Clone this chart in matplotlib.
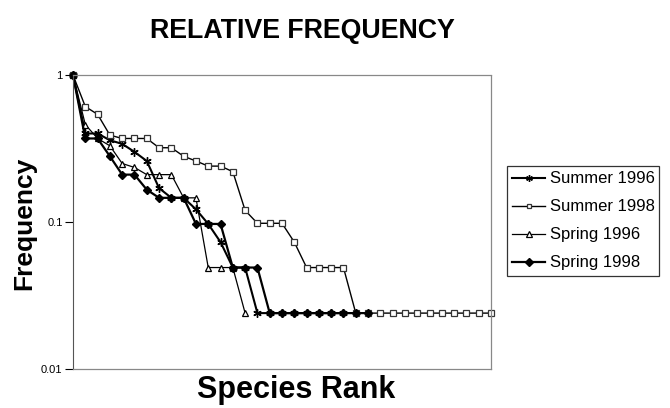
import matplotlib.pyplot as plt

plt.rcParams['font.family'] = ['Liberation Sans', 'DejaVu Sans']

# relative frequency by species rank
summer_1996 = [1, 0.40, 0.40, 0.36, 0.34, 0.30, 0.26, 0.17, 0.146, 0.146,
               0.122, 0.097, 0.073, 0.049, 0.049, 0.024, 0.024, 0.024,
               0.024, 0.024, 0.024, 0.024, 0.024]
summer_1998 = [1, 0.61, 0.54, 0.39, 0.37, 0.37, 0.37, 0.32, 0.32, 0.28,
               0.26, 0.24, 0.24, 0.22, 0.12, 0.098, 0.098, 0.098, 0.073,
               0.049, 0.049, 0.049, 0.049, 0.024, 0.024, 0.024, 0.024,
               0.024, 0.024, 0.024, 0.024, 0.024, 0.024, 0.024, 0.024]
spring_1996 = [1, 0.46, 0.37, 0.33, 0.25, 0.235, 0.21, 0.21, 0.21, 0.146,
               0.146, 0.049, 0.049, 0.049, 0.024]
spring_1998 = [1, 0.37, 0.37, 0.28, 0.21, 0.21, 0.166, 0.146, 0.146, 0.146,
               0.097, 0.097, 0.097, 0.049, 0.049, 0.049, 0.024, 0.024,
               0.024, 0.024, 0.024, 0.024, 0.024, 0.024, 0.024]

series = [
    ('Summer 1996', summer_1996, dict(marker=(6, 2, 0), ms=6, lw=1.5, mew=1.0)),
    ('Summer 1998', summer_1998, dict(marker='s', ms=4, lw=1.0, mfc='white', mec='#333333', mew=0.9)),
    ('Spring 1996', spring_1996, dict(marker='^', ms=5, lw=0.9, mfc='white', mew=0.9)),
    ('Spring 1998', spring_1998, dict(marker='D', ms=4.5, lw=1.6)),
]

fig = plt.figure(figsize=(6.7, 4.08), dpi=100)
ax = fig.add_axes([73 / 670, 1 - 369 / 408, 418 / 670, 294 / 408])

for name, vals, style in series:
    ranks = range(1, len(vals) + 1)
    ax.plot(ranks, vals, color='black', label=name, clip_on=False, **style)

ax.set_yscale('log')
ax.set_ylim(0.01, 1)
ax.set_xlim(1, 35)
ax.set_yticks([0.01, 0.1, 1])
ax.set_yticklabels(['0.01', '0.1', '1'])
ax.minorticks_off()
ax.tick_params(axis='y', direction='out', length=6, width=0.8, labelsize=8, pad=1.5)
ax.set_xticks([])

for side in ['top', 'right', 'bottom']:
    ax.spines[side].set_linestyle((0, (1, 1)))
    ax.spines[side].set_color('#888888')
    ax.spines[side].set_linewidth(0.9)
ax.spines['left'].set_color('#555555')

fig.text(302 / 670, 1 - 31 / 408, 'RELATIVE FREQUENCY', ha='center', va='center',
         fontsize=19.3, fontweight='bold')
fig.text(24 / 670, 1 - 223 / 408, 'Frequency', ha='center', va='center',
         rotation=90, fontsize=19, fontweight='bold')
fig.text(296 / 670, 1 - 390 / 408, 'Species Rank', ha='center', va='center',
         fontsize=22, fontweight='bold')

leg = ax.legend(loc='center left', bbox_to_anchor=(507 / 670, 1 - 221 / 408),
                bbox_transform=fig.transFigure, fontsize=12, frameon=True,
                fancybox=False, edgecolor='black', handlelength=2.0,
                handletextpad=0.25, borderpad=0.3, labelspacing=0.78,
                markerscale=0.8, borderaxespad=0)
leg.get_frame().set_linewidth(0.9)

fig.savefig('out.png', dpi=100)
